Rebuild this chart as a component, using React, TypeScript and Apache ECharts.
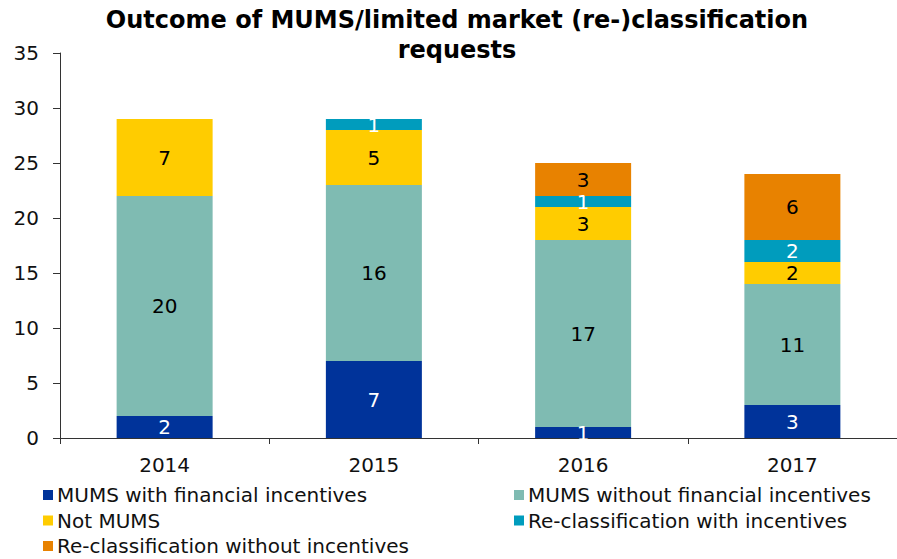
import React, { useEffect, useRef } from "react";
import * as echarts from "echarts";

const categories = ["2014", "2015", "2016", "2017"];
const seriesNames = [
  "MUMS with financial incentives",
  "MUMS without financial incentives",
  "Not MUMS",
  "Re-classification with incentives",
  "Re-classification without incentives",
];
const mumsWithFin = [2, 7, 1, 3];
const mumsWithoutFin = [20, 16, 17, 11];
const notMums = [7, 5, 3, 2];
const reclassWith = [0, 1, 1, 2];
const reclassWithout = [0, 0, 3, 6];
const seriesValues = [mumsWithFin, mumsWithoutFin, notMums, reclassWith, reclassWithout];
const colors = ["#00339A", "#7FBBB2", "#FFCC00", "#009CBD", "#E88200"];
const labelColors = ["#ffffff", "#000000", "#000000", "#ffffff", "#000000"];

export default function App() {
  const ref = useRef<HTMLDivElement>(null);
  useEffect(() => {
    if (!ref.current) return;
    const chart = echarts.init(ref.current, null, { renderer: "svg" });
    const font = "DejaVu Sans";
    const legendText = { fontFamily: font, fontSize: 20, lineHeight: 20, color: "#111", padding: [0, 0, 0, -1] };
    chart.setOption({
      animation: false,
      textStyle: { fontFamily: font },
      title: {
        text: "Outcome of MUMS/limited market (re-)classification\nrequests",
        left: 452,
        textAlign: "center",
        top: 0,
        textStyle: { fontFamily: font, fontSize: 24, fontWeight: "bold", color: "#000", lineHeight: 30 },
      },
      legend: [
        {
          data: [seriesNames[0], seriesNames[2], seriesNames[4]],
          orient: "vertical",
          left: 43,
          top: 485,
          height: 74,
          padding: 0,
          itemWidth: 10,
          itemHeight: 10,
          itemGap: 5.5,
          icon: "rect",
          textStyle: legendText,
        },
        {
          data: [seriesNames[1], seriesNames[3]],
          orient: "vertical",
          left: 514,
          top: 485,
          height: 74,
          padding: 0,
          itemWidth: 10,
          itemHeight: 10,
          itemGap: 5.5,
          icon: "rect",
          textStyle: legendText,
        },
      ],
      grid: { left: 60, top: 53, width: 840, height: 385, containLabel: false },
      xAxis: {
        type: "category",
        data: categories,
        axisLine: { lineStyle: { color: "#333", width: 1 } },
        axisTick: { show: true, length: 6, lineStyle: { color: "#333" } },
        axisLabel: { fontFamily: font, fontSize: 20, color: "#111", margin: 17 },
      },
      yAxis: {
        type: "value",
        min: 0,
        max: 35,
        interval: 5,
        splitLine: { show: false },
        axisLine: { show: true, lineStyle: { color: "#333", width: 1 } },
        axisTick: { show: true, length: 7, lineStyle: { color: "#333" } },
        axisLabel: { fontFamily: font, fontSize: 20, color: "#111", margin: 21 },
      },
      series: seriesNames.map((name, i) => ({
        name,
        type: "bar",
        stack: "total",
        barWidth: 96,
        itemStyle: { color: colors[i] },
        label: {
          show: true,
          position: "inside",
          fontFamily: font,
          fontSize: 20,
          color: labelColors[i],
          formatter: (p: any) => (p.value > 0 ? String(p.value) : ""),
        },
        data: seriesValues[i].map((v) => (v > 0 ? v : null)),
      })),
    });
    return () => chart.dispose();
  }, []);
  return (
    <div
      ref={ref}
      style={{ position: "fixed", left: 0, top: 0, width: 897, height: 559, background: "#fff" }}
    />
  );
}
